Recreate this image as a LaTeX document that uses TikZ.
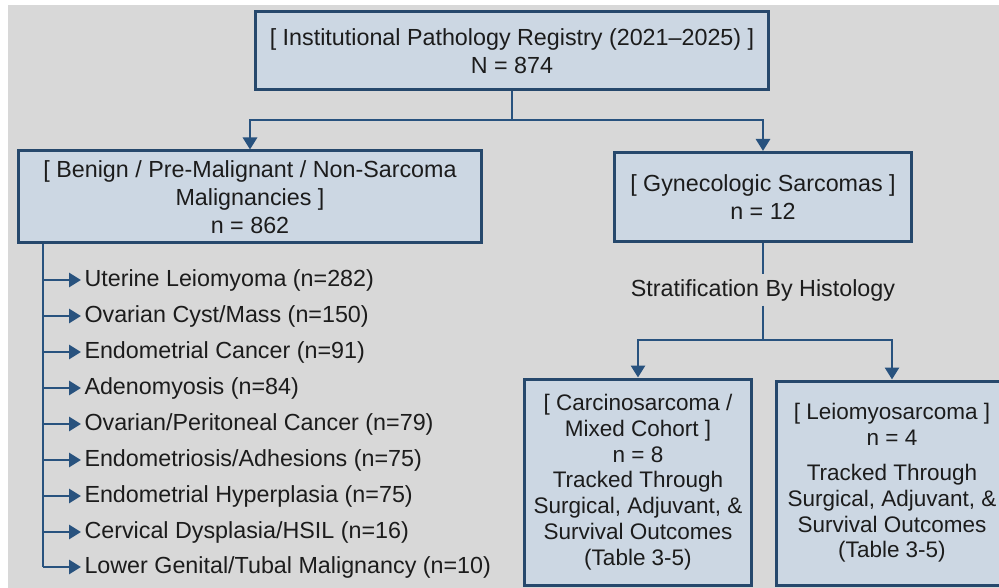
\documentclass[tikz,border=0pt]{standalone}
\usepackage{fontspec}
\setmainfont{Liberation Sans}
\usepackage{tikz}
\usetikzlibrary{arrows.meta,positioning}

\definecolor{pagegray}{RGB}{216,216,216}
\definecolor{boxfill}{RGB}{204,215,227}
\definecolor{boxline}{RGB}{38,72,108}
\definecolor{linkcol}{RGB}{40,82,126}
\definecolor{textcol}{RGB}{28,28,28}

\begin{document}
\begin{tikzpicture}[x=1pt, y=-1pt, >={Triangle[length=12pt,width=14pt]},
    every node/.style={draw=boxline, fill=boxfill, line width=3pt, rectangle, align=center, text=textcol,
        font=\fontsize{23.3}{28}\selectfont},
    item/.style={draw=none, fill=none, anchor=west, inner sep=2pt},
    link/.style={draw=linkcol, line width=2.8pt}]
            \clip (0,0) rectangle (999,588);
            \fill[white] (0,0) rectangle (999,588);
            \fill[pagegray] (8,5) rectangle (999,588);

            % Level 1
            \node[minimum width=513pt, minimum height=78pt] (reg) at (512,51) {[ Institutional Pathology Registry (2021--2025) ]\\ N = 874};

            % Level 2
            \node[minimum width=463pt, minimum height=92pt] (benign) at (250,197) {[ Benign / Pre-Malignant / Non-Sarcoma\\ Malignancies ]\\ n = 862};
            \node[minimum width=297pt, minimum height=89pt] (sarc) at (763,197) {[ Gynecologic Sarcomas ]\\ n = 12};

            % Level 3
            \node[minimum width=227pt, minimum height=206pt, font=\fontsize{22.5}{25.8}\selectfont] (carc) at (638,482) {[ Carcinosarcoma /\\ Mixed Cohort ]\\ n = 8\\ Tracked Through\\ Surgical, Adjuvant, \&\\ Survival Outcomes\\ (Table 3-5)};
            \node[minimum width=231pt, minimum height=204pt, font=\fontsize{22.5}{25.8}\selectfont] (leio) at (892,483) {[ Leiomyosarcoma ]\\ n = 4\\[9pt] Tracked Through\\ Surgical, Adjuvant, \&\\ Survival Outcomes\\ (Table 3-5)};

            \node[draw=none, fill=none] (strat) at (763,290) {Stratification By Histology};

            % Benign list
            \node[item] (l1) at (81,280) {Uterine Leiomyoma (n=282)};
            \node[item] (l2) at (81,316) {Ovarian Cyst/Mass (n=150)};
            \node[item] (l3) at (81,352) {Endometrial Cancer (n=91)};
            \node[item] (l4) at (81,388) {Adenomyosis (n=84)};
            \node[item] (l5) at (81,424) {Ovarian/Peritoneal Cancer (n=79)};
            \node[item] (l6) at (81,460) {Endometriosis/Adhesions (n=75)};
            \node[item] (l7) at (81,496) {Endometrial Hyperplasia (n=75)};
            \node[item] (l8) at (81,532) {Cervical Dysplasia/HSIL (n=16)};
            \node[item] (l9) at (81,567) {Lower Genital/Tubal Malignancy (n=10)};

            \coordinate (t1) at (43,280);
            \coordinate (t2) at (43,316);
            \coordinate (t3) at (43,352);
            \coordinate (t4) at (43,388);
            \coordinate (t5) at (43,424);
            \coordinate (t6) at (43,460);
            \coordinate (t7) at (43,496);
            \coordinate (t8) at (43,532);
            \coordinate (t9) at (43,567);
            \coordinate (j1) at (512,120);
            \coordinate (j2) at (763,340);

            % Edges
            \draw[link] (reg) -- (j1);
            \draw[link,->] (j1) -| (benign);
            \draw[link,->] (j1) -| (sarc);

            \draw[link] (sarc) -- (strat);
            \draw[link] (strat) -- (j2);
            \draw[link,->] (j2) -| (carc);
            \draw[link,->] (j2) -| (leio);

            \draw[link] (benign.south -| t9) -- (t9);
            \draw[link,->] (t1) -- (l1.west);
            \draw[link,->] (t2) -- (l2.west);
            \draw[link,->] (t3) -- (l3.west);
            \draw[link,->] (t4) -- (l4.west);
            \draw[link,->] (t5) -- (l5.west);
            \draw[link,->] (t6) -- (l6.west);
            \draw[link,->] (t7) -- (l7.west);
            \draw[link,->] (t8) -- (l8.west);
            \draw[link,->] (t9) -- (l9.west);
        \end{tikzpicture}
\end{document}
